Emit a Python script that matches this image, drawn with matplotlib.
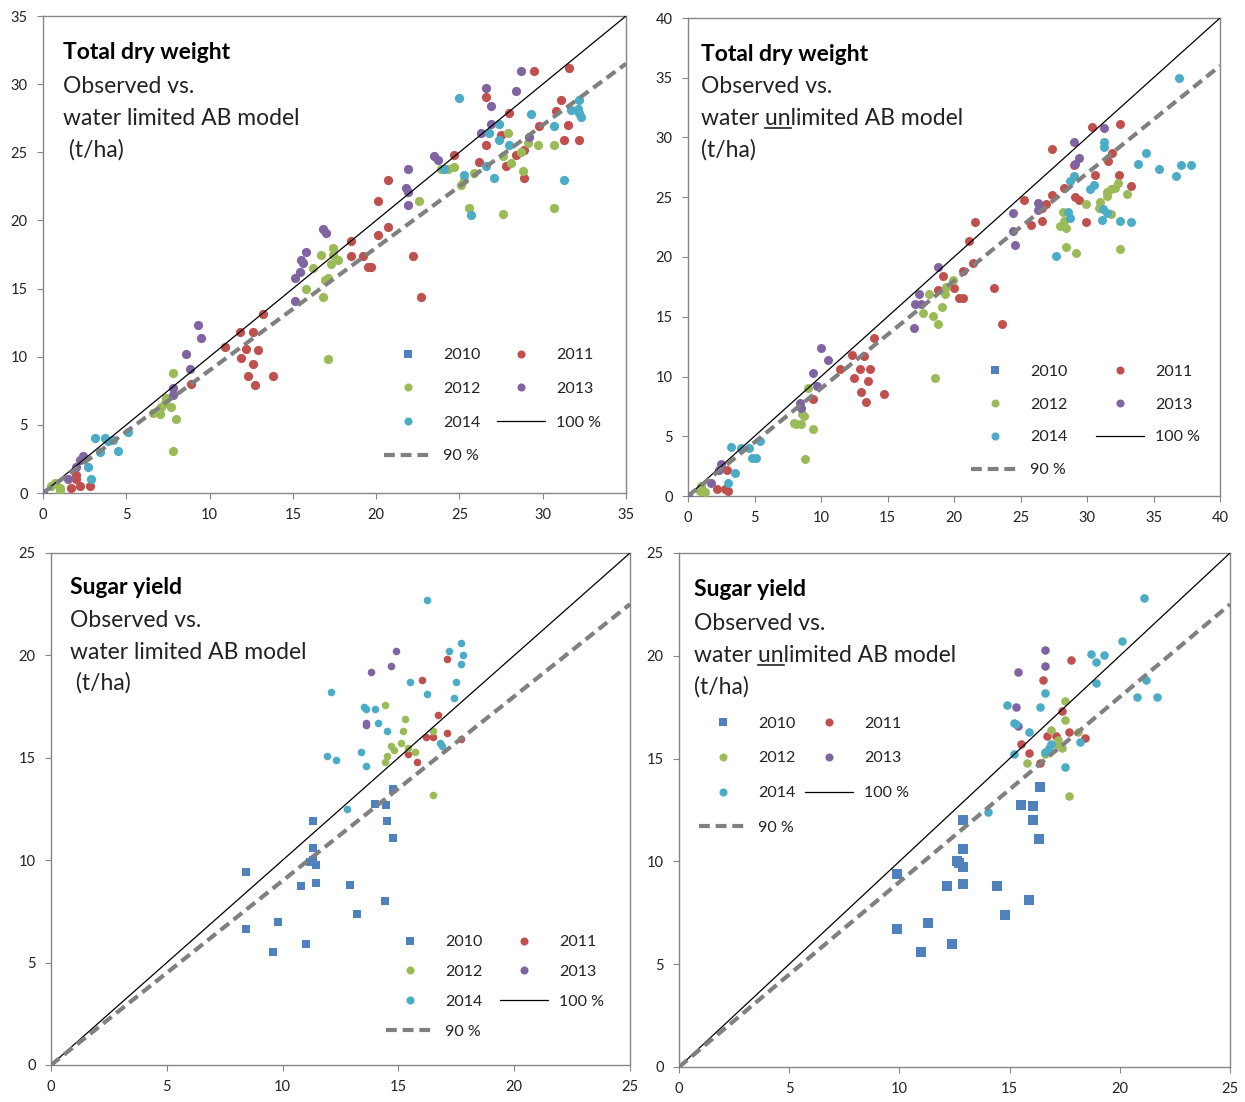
import matplotlib
matplotlib.use("Agg")
import matplotlib.pyplot as plt
from matplotlib.lines import Line2D

plt.rcParams['font.family'] = ['Lato', 'DejaVu Sans']

# ---------------- data: (model, observed) pairs ----------------
YEARS = [2010, 2011, 2012, 2013, 2014]

# Panel 1: total dry weight, water limited model
TDW_LIM_2011 = [(29.5,31.0),(31.6,31.2),(26.6,29.05),(28.0,27.9),(31.1,28.8),(30.8,28.0),(29.8,26.9),(31.5,27.0),
                (31.3,25.9),(32.2,25.9),(27.5,26.3),(26.6,25.5),(28.9,25.2),(28.4,24.8),(27.8,24.0),(26.2,24.3),
                (28.9,23.1),(24.7,24.8),(20.7,23.0),(20.1,21.4),(18.5,18.5),(20.1,18.9),(20.7,19.5),(18.5,17.4),
                (19.2,17.4),(19.5,16.6),(19.7,16.6),(22.2,17.4),(22.7,14.4),(13.2,13.1),(11.8,11.8),(12.6,11.8),
                (10.9,10.7),(12.2,10.6),(12.9,10.5),(11.9,9.9),(12.6,9.5),(12.3,8.6),(13.8,8.6),(12.7,7.9),
                (8.9,8.0),(2.0,1.0),(2.8,0.5),(2.2,0.5),(1.7,0.4),(2.0,1.3)]
TDW_LIM_2012 = [(30.7,25.5),(27.9,26.4),(29.1,25.7),(29.7,25.5),(28.7,25.0),(27.6,24.7),(28.1,24.2),(28.8,23.6),
                (30.7,20.9),(27.6,20.5),(25.6,20.9),(25.3,23.0),(25.9,23.5),(25.1,22.6),(24.3,23.8),(24.7,23.9),
                (23.9,23.8),(22.6,21.4),(17.4,18.0),(16.7,17.5),(17.4,17.5),(17.7,17.1),(15.8,15.0),(16.8,14.4),
                (16.9,15.6),(17.1,15.8),(16.2,16.5),(17.3,16.8),(7.8,8.8),(17.1,9.8),(7.8,3.1),(8.0,5.4),
                (6.6,5.9),(7.1,6.3),(7.3,6.6),(7.0,5.8),(7.7,6.3),(7.4,7.0),(0.7,0.7),(1.0,0.2),(0.5,0.5),(1.0,0.4)]
TDW_LIM_2013 = [(28.7,31.0),(26.6,29.7),(26.9,28.4),(28.4,29.5),(26.9,27.1),(26.3,26.4),(29.2,26.1),(23.5,24.7),
                (23.7,24.4),(21.9,23.8),(21.8,22.4),(21.9,22.1),(21.9,21.1),(16.8,19.4),(17.0,19.1),(15.8,17.7),
                (15.5,17.1),(15.1,14.1),(15.1,15.8),(15.4,16.2),(15.6,16.9),(9.3,12.3),(9.5,11.4),(8.6,10.2),
                (8.8,9.1),(7.8,7.7),(7.8,7.2),(0.0,0.0),(2.2,2.4),(2.4,2.7),(2.0,1.9),(1.5,1.0)]
TDW_LIM_2014 = [(24.95,29.0),(29.3,27.8),(32.2,28.8),(32.2,27.9),(32.3,27.6),(32.1,28.2),(31.7,28.1),(30.7,26.9),
                (27.4,27.1),(26.8,26.4),(27.4,25.9),(28.0,25.5),(26.6,24.0),(27.1,23.1),(31.3,23.0),(25.7,20.4),
                (25.3,23.3),(24.1,23.8),(3.1,4.0),(3.7,4.0),(4.2,3.9),(4.5,3.1),(3.4,3.0),(5.1,4.5),(2.9,1.0),
                (2.7,1.9),(3.9,3.8)]

# Panel 2: total dry weight, water unlimited model
TDW_UNL_2011 = [(27.4,29.0),(30.4,30.9),(32.5,31.1),(31.9,28.7),(31.6,28.0),(29.0,27.7),(30.6,26.9),(32.4,26.9),
                (33.3,25.9),(29.1,25.0),(29.4,24.8),(29.9,22.9),(28.3,25.8),(27.4,25.2),(25.3,24.8),(26.6,24.1),
                (26.9,24.4),(26.6,23.0),(25.8,22.7),(21.6,22.9),(21.1,21.3),(21.4,19.5),(20.7,18.8),(19.2,18.4),
                (18.8,17.2),(20.0,17.4),(20.4,16.6),(20.7,16.6),(23.0,17.4),(23.6,14.4),(14.0,13.2),(12.3,11.8),
                (13.2,11.7),(11.4,10.6),(12.96,10.6),(13.7,10.6),(12.5,9.9),(13.5,9.6),(13.0,8.7),(14.7,8.5),
                (13.4,7.9),(9.4,8.1),(2.9,2.2),(2.2,0.6),(2.8,0.6),(3.0,0.4)]
TDW_UNL_2012 = [(32.5,20.7),(28.4,20.8),(29.2,20.3),(33.0,25.3),(32.3,26.2),(31.8,25.7),(32.1,25.8),(31.5,25.4),
                (31.5,25.1),(31.0,24.6),(30.9,24.1),(31.8,23.6),(29.9,24.4),(28.2,23.8),(28.3,23.0),(28.0,22.6),
                (28.4,22.4),(19.9,18.1),(18.1,16.9),(19.4,17.5),(19.3,16.9),(19.1,15.8),(18.4,15.1),(17.7,15.3),
                (18.8,14.4),(18.6,9.9),(9.0,9.0),(8.0,6.1),(8.7,6.7),(8.5,6.0),(8.6,6.9),(8.1,6.0),(9.4,5.6),
                (8.8,3.1),(1.0,0.8),(1.3,0.3),(0.9,0.4)]
TDW_UNL_2013 = [(29.0,29.6),(31.3,30.8),(29.4,28.3),(29.1,27.8),(26.3,24.5),(26.3,23.9),(24.4,23.7),(24.4,22.2),
                (24.6,21.0),(18.8,19.2),(17.4,16.9),(17.1,16.1),(17.5,16.1),(17.0,14.1),(10.0,12.4),(10.5,11.4),
                (9.4,10.3),(9.7,9.2),(8.4,7.8),(8.5,7.4),(2.5,2.7),(2.3,2.2),(1.7,1.1),(0.0,0.0)]
TDW_UNL_2014 = [(36.9,35.0),(33.8,27.8),(34.4,28.7),(35.4,27.4),(36.7,26.8),(37.1,27.7),(37.8,27.7),(32.5,23.0),
                (33.3,22.9),(27.7,20.1),(31.3,29.2),(31.3,29.6),(29.0,26.8),(28.7,26.4),(30.2,25.7),(30.5,26.0),
                (31.2,24.0),(31.5,23.7),(31.1,23.1),(28.6,23.8),(28.7,23.3),(3.2,4.1),(4.0,4.0),(4.6,4.0),
                (5.4,4.6),(5.1,3.2),(4.8,3.2),(3.5,1.9),(3.0,1.1)]

# Panel 3: sugar yield, water limited model
SY_LIM_2010 = [(14.75,13.5),(14.0,12.75),(14.45,12.7),(11.3,11.9),(14.5,11.9),(14.75,11.1),(11.3,10.6),(11.2,9.9),
               (11.3,10.0),(11.45,9.75),(8.4,9.4),(10.8,8.75),(11.45,8.9),(12.9,8.8),(14.4,8.0),(13.2,7.35),
               (9.8,7.0),(8.4,6.65),(11.0,5.9),(9.6,5.5)]
SY_LIM_2011 = [(16.0,18.8),(17.1,19.8),(16.7,17.1),(17.1,16.2),(16.2,16.0),(16.5,16.0),(17.7,15.9),(15.4,15.2),
               (15.8,14.8)]
SY_LIM_2012 = [(14.4,17.6),(15.3,16.9),(15.2,16.3),(16.5,16.3),(14.5,15.1),(14.7,15.6),(15.1,15.7),(15.4,15.5),
               (15.7,15.3),(14.8,15.4),(14.4,14.8),(16.5,13.2)]
SY_LIM_2013 = [(14.9,20.2),(14.7,19.5),(13.8,19.2),(13.6,16.7),(13.6,16.6)]
SY_LIM_2014 = [(16.25,22.7),(17.7,20.6),(17.2,20.2),(17.8,20.0),(17.7,19.6),(15.5,18.7),(16.25,18.1),(17.5,18.7),
               (17.4,17.9),(12.1,18.2),(13.5,17.5),(13.6,17.4),(14.0,17.4),(14.1,16.7),(14.5,16.3),(16.8,15.7),
               (16.9,15.6),(11.9,15.1),(12.3,14.9),(13.4,15.3),(13.6,14.6),(12.8,12.5)]

# Panel 4: sugar yield, water unlimited model
SY_UNL_2010 = [(16.36,13.6),(15.5,12.75),(16.06,12.7),(12.9,12.0),(16.06,12.0),(16.35,11.1),(12.9,10.6),(12.6,10.0),
               (12.7,9.9),(12.9,9.75),(9.9,9.4),(12.15,8.8),(12.9,8.9),(14.45,8.8),(15.9,8.1),(14.8,7.4),
               (11.3,7.0),(9.9,6.7),(12.4,6.0),(11.0,5.6)]
SY_UNL_2011 = [(17.8,19.8),(16.5,18.8),(17.4,17.3),(17.7,16.3),(16.7,16.1),(17.1,16.1),(18.4,16.0),(15.5,15.7),
               (15.9,15.25),(16.4,14.8)]
SY_UNL_2012 = [(17.5,17.8),(17.5,16.9),(16.9,16.4),(18.1,16.3),(17.2,15.9),(17.4,15.5),(17.1,15.7),(16.8,15.4),
               (16.6,15.2),(15.8,14.8),(17.7,13.2)]
SY_UNL_2013 = [(16.6,20.3),(16.6,19.5),(15.4,19.2),(15.3,17.5),(15.4,16.6)]
SY_UNL_2014 = [(21.1,22.8),(20.1,20.7),(18.7,20.1),(19.3,20.05),(18.9,19.7),(18.9,18.7),(21.2,18.8),(20.8,18.0),
               (21.7,18.0),(16.6,18.2),(14.9,17.6),(16.4,17.5),(15.2,16.75),(15.3,16.7),(15.9,16.3),(18.2,15.8),
               (16.8,15.5),(16.6,15.3),(16.9,15.7),(15.2,15.2),(17.5,14.6),(14.0,12.4)]

AXIS_MAX = [35, 40, 25, 25]
REF_LEVELS = [1.0, 0.9]
REF_LABELS = ["100 %", "90 %"]
TITLES = ["Total dry weight", "Total dry weight", "Sugar yield", "Sugar yield"]
LINE2 = "Observed vs."
LINE3 = ["water limited AB model", "water unlimited AB model",
         "water limited AB model", "water unlimited AB model"]
LINE4 = [" (t/ha)", "(t/ha)", " (t/ha)", "(t/ha)"]

COLORS = {2010: '#4F81BD', 2011: '#C0504D', 2012: '#9BBB59', 2013: '#8064A2', 2014: '#4BACC6'}

W, H = 1245, 1102
fig = plt.figure(figsize=(W / 100, H / 100), dpi=100)
fig.patch.set_facecolor('white')

PANEL_PX = [(43, 16, 626, 493), (688, 18, 1220, 496), (51, 553, 630, 1065), (679, 553, 1230, 1067)]
LEGEND_POS = [(0.585, 0.304), (0.532, 0.275), (0.578, 0.254), (0.036, 0.682)]
LEGEND_SPACING = [1.22, 1.17, 0.98, 1.29]
LEGEND_COLSP = [1.05, 1.8, 1.1, 0.6]
TEXT_PX = [(63, [59, 93, 125, 157]), (701, [61, 93, 125, 157]),
           (70, [594, 627, 659, 690]), (694, [596, 630, 662, 694])]
SIZES = [(44, 44), (42, 42), (30, 36), (38, 44)]
FS_TEXT = 16.5

panel_data = [
    {2011: TDW_LIM_2011, 2012: TDW_LIM_2012, 2013: TDW_LIM_2013, 2014: TDW_LIM_2014},
    {2011: TDW_UNL_2011, 2012: TDW_UNL_2012, 2013: TDW_UNL_2013, 2014: TDW_UNL_2014},
    {2010: SY_LIM_2010, 2011: SY_LIM_2011, 2012: SY_LIM_2012, 2013: SY_LIM_2013, 2014: SY_LIM_2014},
    {2010: SY_UNL_2010, 2011: SY_UNL_2011, 2012: SY_UNL_2012, 2013: SY_UNL_2013, 2014: SY_UNL_2014},
]

SPINE = '#868686'
axes = []
for i, (l, t, r, b) in enumerate(PANEL_PX):
    ax = fig.add_axes([l / W, 1 - b / H, (r - l) / W, (b - t) / H])
    axes.append(ax)
    vmax = AXIS_MAX[i]
    s_circ, s_sq = SIZES[i]
    for yr in YEARS:
        pts = panel_data[i].get(yr)
        if not pts:
            continue
        xs = [p[0] for p in pts]
        ys = [p[1] for p in pts]
        ax.scatter(xs, ys, s=s_sq if yr == 2010 else s_circ, marker='s' if yr == 2010 else 'o',
                   color=COLORS[yr], linewidths=0, zorder=3)
    # reference lines
    ax.plot([0, vmax], [0, vmax * REF_LEVELS[0]], color='black', lw=0.9, zorder=4)
    ax.plot([0, vmax], [0, vmax * REF_LEVELS[1]], color='#808080', lw=3,
            ls=(0, (2.6, 1.4)), zorder=4)
    ax.set_xlim(0, vmax)
    ax.set_ylim(0, vmax)
    ax.set_xticks(range(0, vmax + 1, 5))
    ax.set_yticks(range(0, vmax + 1, 5))
    ax.tick_params(direction='out', length=4, width=0.8, color=SPINE, labelsize=10.5,
                   labelcolor='#222222', pad=7)
    for sp in ax.spines.values():
        sp.set_color(SPINE)
        sp.set_linewidth(1.0)
    # legend
    h = {}
    for yr in YEARS:
        h[yr] = Line2D([], [], ls='none', marker='s' if yr == 2010 else 'o', color=COLORS[yr],
                       markersize=6.2 if yr == 2010 else 5.8, markeredgewidth=0)
    h100 = Line2D([], [], color='black', lw=0.9)
    h90 = Line2D([], [], color='#808080', lw=3, ls=(0, (2.6, 1.4)))
    handles = [h[2010], h[2012], h[2014], h90, h[2011], h[2013], h100]
    labels = ["2010", "2012", "2014", REF_LABELS[1], "2011", "2013", REF_LABELS[0]]
    ax.legend(handles, labels, ncol=2, frameon=False, fontsize=11.5, handlelength=3.0,
              handletextpad=0.7, columnspacing=LEGEND_COLSP[i], labelspacing=LEGEND_SPACING[i],
              loc='upper left', bbox_to_anchor=LEGEND_POS[i], borderaxespad=0, borderpad=0,
              labelcolor='#222222')

# panel texts
text_objs = []
for i in range(4):
    x0, ys = TEXT_PX[i]
    fig.text(x0 / W, 1 - ys[0] / H, TITLES[i], fontsize=FS_TEXT, fontweight='bold', va='baseline',
             ha='left', color='black')
    fig.text(x0 / W, 1 - ys[1] / H, LINE2, fontsize=FS_TEXT, va='baseline', ha='left', color='#222222')
    t3 = fig.text(x0 / W, 1 - ys[2] / H, LINE3[i], fontsize=FS_TEXT, va='baseline', ha='left',
                  color='#222222')
    fig.text(x0 / W, 1 - ys[3] / H, LINE4[i], fontsize=FS_TEXT, va='baseline', ha='left', color='#222222')
    text_objs.append((t3, x0, ys[2]))

# underline "un" in "unlimited"
fig.canvas.draw()
renderer = fig.canvas.get_renderer()


def width(txt):
    tmp = fig.text(0, 0, txt, fontsize=FS_TEXT, va='baseline', ha='left')
    w = tmp.get_window_extent(renderer).width
    tmp.remove()
    return w


for t3, x0, yb in text_objs:
    s = t3.get_text()
    k = s.find("unlimited")
    if k < 0:
        continue
    w_pre_un = width(s[:k + 2])
    w_un = width("un")
    xr = x0 + w_pre_un
    xl = xr - w_un
    yl = yb + 3
    fig.add_artist(Line2D([xl / W, xr / W], [1 - yl / H, 1 - yl / H], transform=fig.transFigure,
                          color='#222222', lw=1.2))

fig.savefig("out.png", dpi=100, facecolor='white')
